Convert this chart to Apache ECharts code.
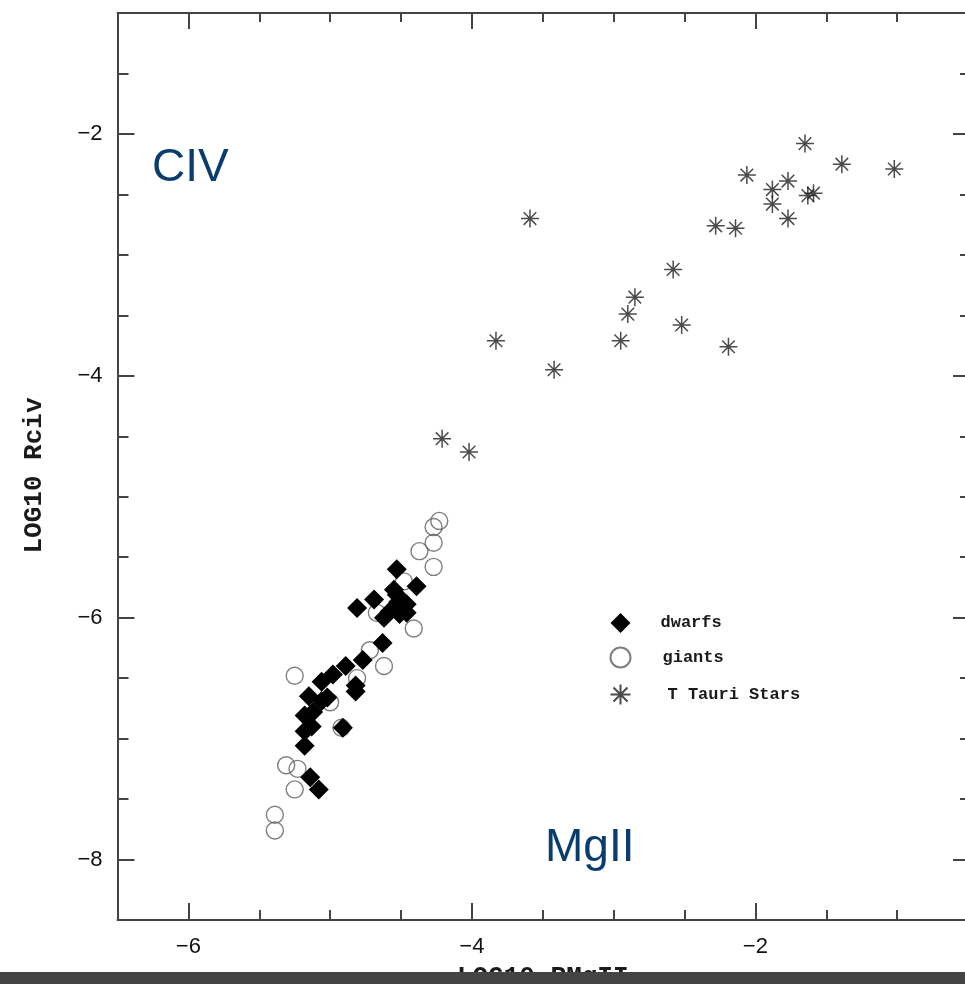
<!DOCTYPE html>
<html>
<head>
<meta charset="utf-8">
<script src="https://cdn.jsdelivr.net/npm/echarts@6/dist/echarts.min.js"></script>
<style>
html,body{margin:0;padding:0;background:#fff;}
#chart{width:965px;height:984px;}
</style>
</head>
<body>
<div id="chart"></div>
<script>
// ---- data ----
const xMajorTicks = [-6, -4, -2];
const yMajorTicks = [-8, -6, -4, -2];
const seriesNames = ['dwarfs', 'giants', 'T Tauri Stars'];

const dwarfs = [
  [-4.53,-5.60],[-4.39,-5.74],[-4.55,-5.77],[-4.69,-5.85],[-4.81,-5.92],[-4.52,-5.87],
  [-4.58,-5.95],[-4.46,-5.89],[-4.46,-5.96],[-4.62,-6.00],[-4.51,-5.97],[-4.53,-5.81],
  [-4.63,-6.21],[-4.77,-6.35],[-4.89,-6.40],[-4.98,-6.47],[-5.06,-6.53],[-4.82,-6.56],
  [-4.82,-6.61],[-5.15,-6.65],[-5.06,-6.69],[-5.18,-6.81],[-5.13,-6.90],[-5.12,-6.78],
  [-4.91,-6.91],[-5.18,-6.94],[-5.18,-7.06],[-5.14,-7.32],[-5.08,-7.42],[-5.02,-6.66]
];
const giants = [
  [-4.23,-5.20],[-4.27,-5.25],[-4.27,-5.38],[-4.37,-5.45],[-4.27,-5.58],[-4.41,-6.09],
  [-4.62,-6.40],[-4.72,-6.27],[-4.81,-6.50],[-5.25,-6.48],[-5.00,-6.70],[-4.92,-6.91],
  [-5.31,-7.22],[-5.23,-7.25],[-5.25,-7.42],[-5.39,-7.63],[-5.39,-7.76],[-4.48,-5.70],
  [-4.67,-5.96]
];
const tTauri = [
  [-3.59,-2.70],[-1.65,-2.08],[-1.39,-2.25],[-1.02,-2.29],[-2.06,-2.34],[-1.77,-2.39],
  [-1.88,-2.46],[-1.88,-2.58],[-1.63,-2.51],[-1.59,-2.49],[-1.77,-2.70],[-2.28,-2.76],
  [-2.14,-2.78],[-2.58,-3.12],[-2.85,-3.35],[-2.90,-3.49],[-2.52,-3.58],[-2.95,-3.71],
  [-3.83,-3.71],[-2.19,-3.76],[-3.42,-3.95],[-4.21,-4.52],[-4.02,-4.63]
];

// ---- chart ----
const axisColor = '#444';
const fmt = v => String(v).replace('-', '\u2212');
const gridRect = {left: 117.5, right: -3, top: 13, bottom: 64, outerBoundsMode: 'none', containLabel: false};
const xRange = {min: -6.5, max: -0.5};
const yRange = {min: -8.5, max: -1};

function majorX(pos, gi, showLabel, tickLen) {
  return Object.assign({
    type: 'value', gridIndex: gi, position: pos,
    axisLine: {show: true, onZero: false, lineStyle: {color: axisColor, width: 2}},
    axisTick: {show: true, inside: true, length: tickLen, customValues: xMajorTicks, lineStyle: {color: axisColor, width: 2}},
    axisLabel: {show: showLabel, customValues: xMajorTicks, formatter: fmt, margin: 16,
      fontFamily: 'Liberation Sans', fontSize: 22, color: '#111'},
    splitLine: {show: false}
  }, xRange);
}
function minorX(pos, gi, tickLen) {
  return Object.assign({
    type: 'value', gridIndex: gi, position: pos, interval: 0.5,
    axisLine: {show: false, onZero: false},
    axisTick: {show: true, inside: true, length: tickLen, lineStyle: {color: axisColor, width: 2}},
    axisLabel: {show: false}, splitLine: {show: false}
  }, xRange);
}
function majorY(pos, gi, showLabel, tickLen) {
  return Object.assign({
    type: 'value', gridIndex: gi, position: pos,
    axisLine: {show: true, onZero: false, lineStyle: {color: axisColor, width: 2}},
    axisTick: {show: true, inside: true, length: tickLen, customValues: yMajorTicks, lineStyle: {color: axisColor, width: 2}},
    axisLabel: {show: showLabel, customValues: yMajorTicks, formatter: fmt, margin: 15,
      fontFamily: 'Liberation Sans', fontSize: 22, color: '#111'},
    splitLine: {show: false}
  }, yRange);
}
function minorY(pos, gi, tickLen) {
  return Object.assign({
    type: 'value', gridIndex: gi, position: pos, interval: 0.5,
    axisLine: {show: false, onZero: false},
    axisTick: {show: true, inside: true, length: tickLen, lineStyle: {color: axisColor, width: 2}},
    axisLabel: {show: false}, splitLine: {show: false}
  }, yRange);
}

const nameFont = {fontFamily: 'Liberation Mono', fontWeight: 'bold', fontSize: 26, color: '#1a1a1a'};

const xBottom = majorX('bottom', 0, true, 17);
xBottom.name = 'LOG10 RMgII';
xBottom.nameLocation = 'middle';
xBottom.nameGap = 44;
xBottom.nameTextStyle = nameFont;

const yLeft = majorY('left', 0, true, 17);
yLeft.name = 'LOG10 Rciv';
yLeft.nameLocation = 'middle';
yLeft.nameGap = 70;
yLeft.nameTextStyle = Object.assign({}, nameFont, {padding: [0, 18, 0, 0]});

const starPath = 'path://M10,0L10,20M0,10L20,10M3,3L17,17M3,17L17,3';

const option = {
  backgroundColor: '#fff',
  animation: false,
  grid: [
    Object.assign({}, gridRect),
    Object.assign({}, gridRect)
  ],
  xAxis: [
    xBottom,
    majorX('top', 0, false, 16),
    minorX('bottom', 1, 10),
    minorX('top', 1, 9)
  ],
  yAxis: [
    yLeft,
    majorY('right', 0, false, 15),
    minorY('left', 1, 11),
    minorY('right', 1, 8)
  ],
  legend: {
    orient: 'vertical',
    left: 603, top: 608,
    itemWidth: 20, itemHeight: 20, itemGap: 13.5,
    textStyle: {fontFamily: 'Liberation Mono', fontWeight: 'bold', fontSize: 17, color: '#1a1a1a', lineHeight: 20},
    data: [
      {name: seriesNames[0], textStyle: {padding: [0, 0, 0, 25]}},
      {name: seriesNames[1], textStyle: {padding: [0, 0, 0, 27]}},
      {name: seriesNames[2], textStyle: {padding: [0, 0, 0, 32]}}
    ]
  },
  series: [
    {
      name: seriesNames[1], type: 'scatter', xAxisIndex: 0, yAxisIndex: 0,
      symbol: 'circle', symbolSize: 17,
      itemStyle: {color: 'rgba(255,255,255,0)', borderColor: '#5e5e5e', borderWidth: 1.4},
      data: giants, z: 2
    },
    {
      name: seriesNames[0], type: 'scatter', xAxisIndex: 0, yAxisIndex: 0,
      symbol: 'diamond', symbolSize: [20, 20],
      itemStyle: {color: '#000', opacity: 1},
      data: dwarfs, z: 3
    },
    {
      name: seriesNames[2], type: 'scatter', xAxisIndex: 0, yAxisIndex: 0,
      symbol: starPath, symbolSize: 18,
      itemStyle: {color: 'none', borderColor: '#1e1e1e', borderWidth: 1.5},
      data: tTauri, z: 4
    }
  ],
  graphic: [
    {type: 'text', left: 152, top: 145, style: {text: 'CIV', fontFamily: 'Liberation Sans', fontSize: 46, fill: '#0a3c6e'}},
    {type: 'text', left: 545, top: 825, style: {text: 'MgII', fontFamily: 'Liberation Sans', fontSize: 46, fill: '#0a3c6e'}},
    {type: 'rect', left: 0, top: 972, z: 100, shape: {width: 965, height: 12}, style: {fill: '#444'}}
  ]
};

const chart = echarts.init(document.getElementById('chart'), null, {renderer: 'canvas'});
chart.setOption(option);
</script>
</body>
</html>
